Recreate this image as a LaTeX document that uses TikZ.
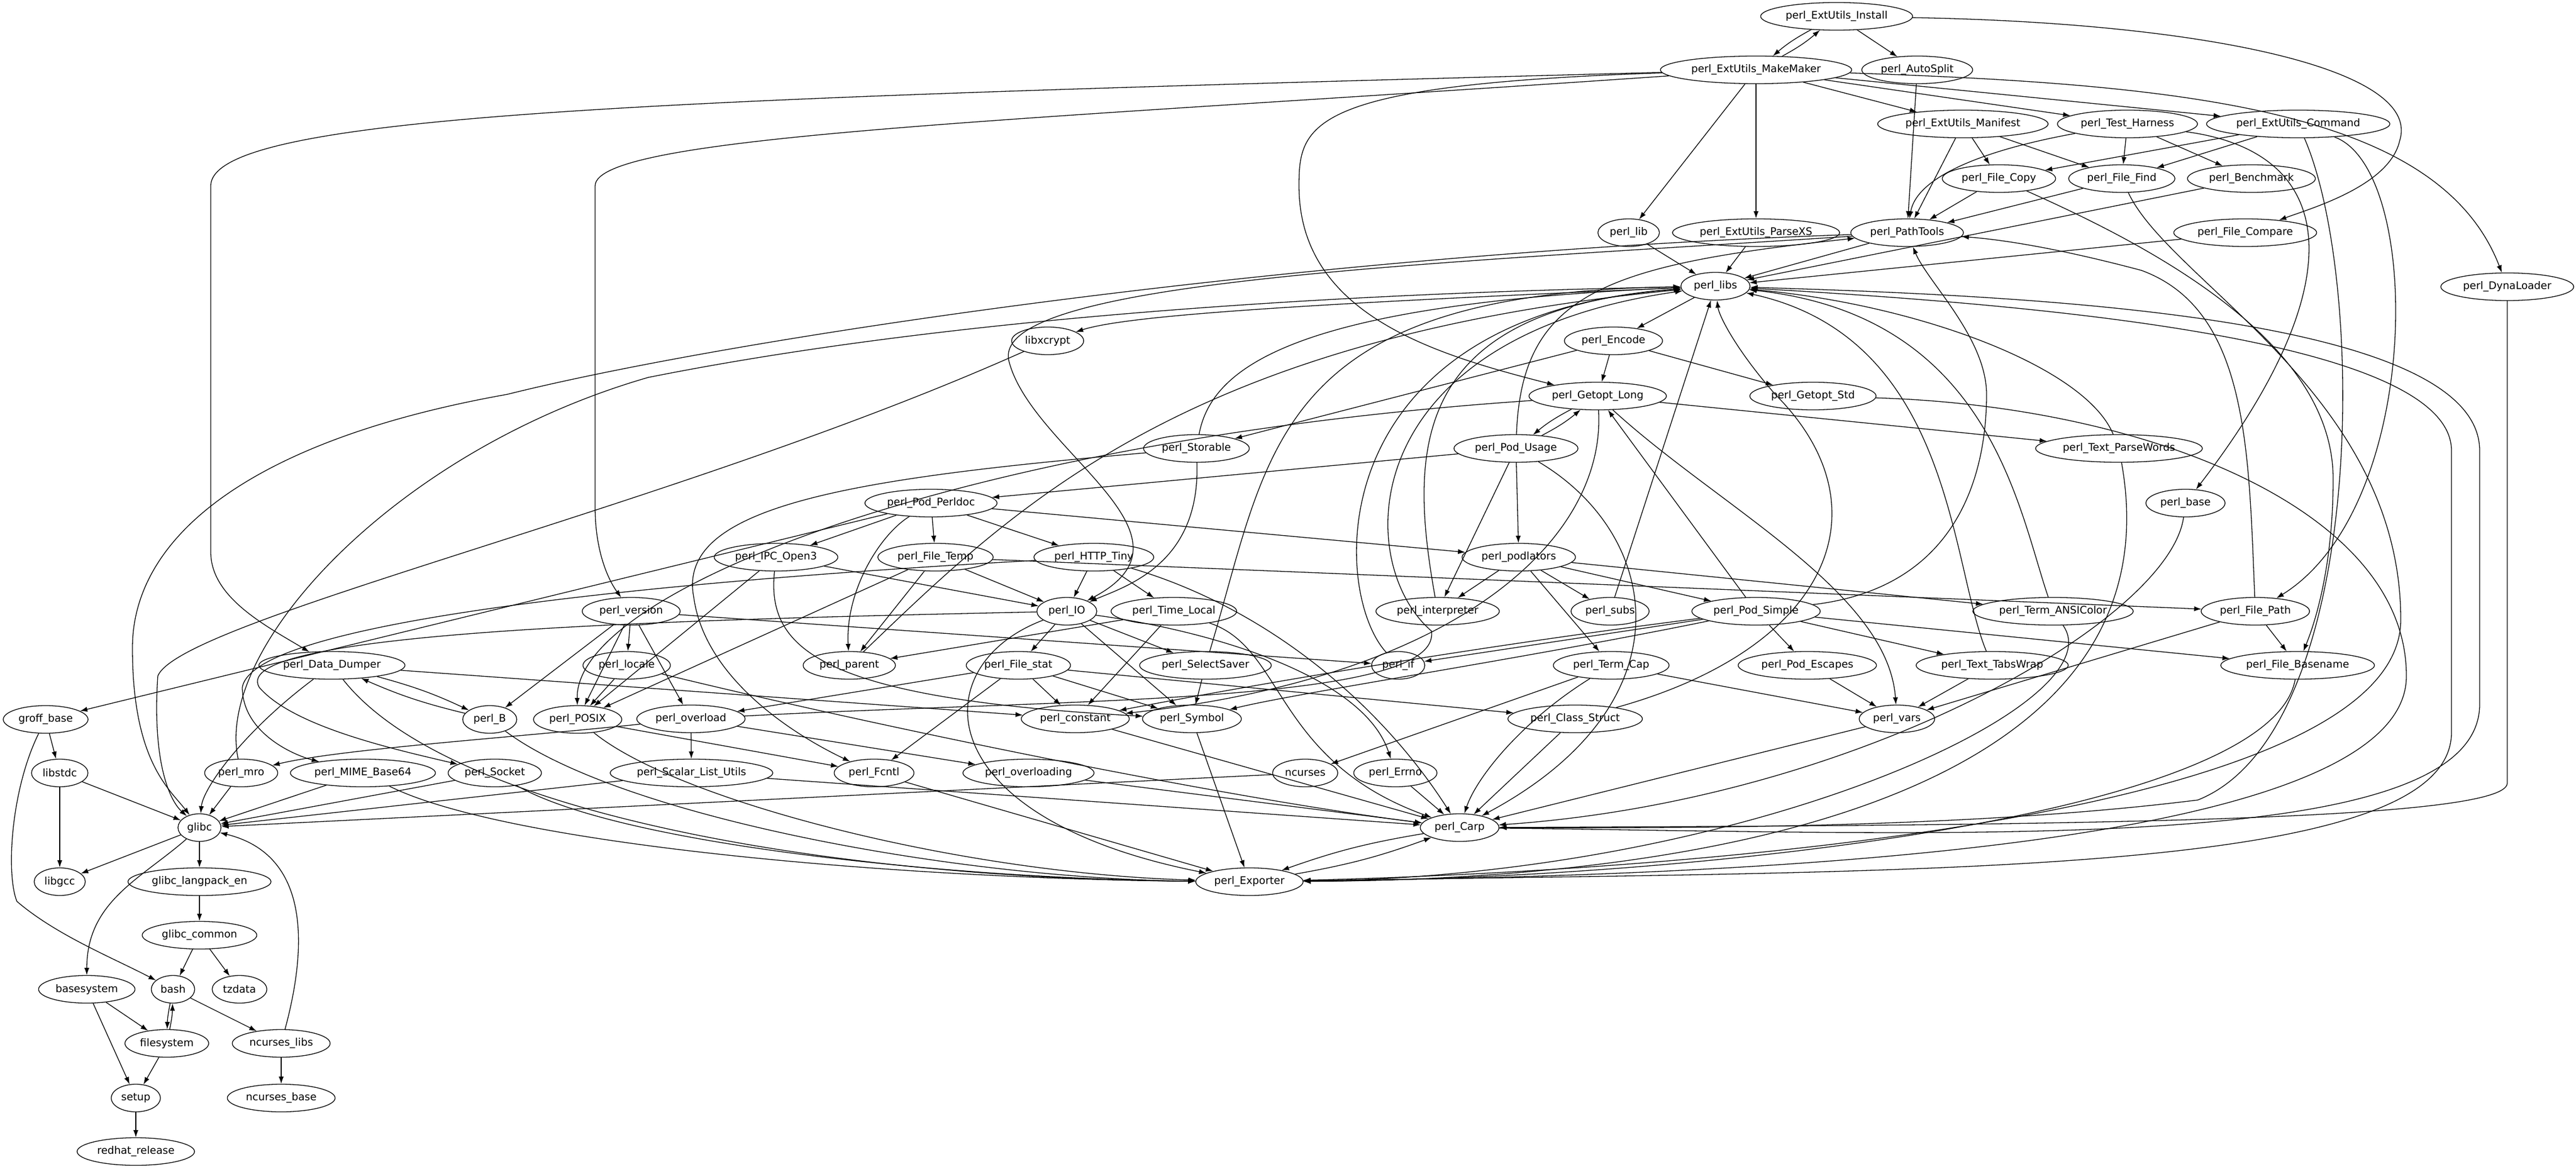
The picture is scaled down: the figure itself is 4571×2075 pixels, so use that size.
\documentclass[tikz,border=0pt]{standalone}
\usepackage{fontspec}
\setmainfont{DejaVu Sans}
\usetikzlibrary{arrows.meta,shapes.geometric}
\newcommand{\pkgfont}{\fontsize{9.25}{11}\selectfont}
\tikzset{
  pkg/.style={draw,ellipse,line width=0.65pt,minimum width=36.75pt,minimum height=24.5pt,inner xsep=2.5pt,inner ysep=1pt,font=\pkgfont},
  dep/.style={-{Latex[length=6.5pt,width=4.5pt]},line width=0.65pt}
}
\begin{document}
\begin{tikzpicture}[x=0.5pt,y=-0.5pt]
\useasboundingbox (0,0) rectangle (4571,2075);
\node[pkg] (install) at (3259,29) {perl\_ExtUtils\_Install};
\node[pkg] (makemaker) at (3116,124) {perl\_ExtUtils\_MakeMaker};
\node[pkg] (autosplit) at (3402,124) {perl\_AutoSplit};
\node[pkg] (manifest) at (3483,220) {perl\_ExtUtils\_Manifest};
\node[pkg] (harness) at (3775,220) {perl\_Test\_Harness};
\node[pkg] (command) at (4078,220) {perl\_ExtUtils\_Command};
\node[pkg] (filecopy) at (3547,317) {perl\_File\_Copy};
\node[pkg] (filefind) at (3765,317) {perl\_File\_Find};
\node[pkg] (benchmark) at (3995,317) {perl\_Benchmark};
\node[pkg] (lib) at (2890,413) {perl\_lib};
\node[pkg] (parsexs) at (3116,413) {perl\_ExtUtils\_ParseXS};
\node[pkg] (pathtools) at (3384,413) {perl\_PathTools};
\node[pkg] (filecompare) at (3984,413) {perl\_File\_Compare};
\node[pkg] (libs) at (3044,508) {perl\_libs};
\node[pkg] (dynaloader) at (4449,509) {perl\_DynaLoader};
\node[pkg] (libxcrypt) at (1859,605) {libxcrypt};
\node[pkg] (encode) at (2863,605) {perl\_Encode};
\node[pkg] (getoptlong) at (2835,703) {perl\_Getopt\_Long};
\node[pkg] (getoptstd) at (3217,703) {perl\_Getopt\_Std};
\node[pkg] (storable) at (2123,796) {perl\_Storable};
\node[pkg] (podusage) at (2690,796) {perl\_Pod\_Usage};
\node[pkg] (parsewords) at (3760,796) {perl\_Text\_ParseWords};
\node[pkg] (perldoc) at (1652,893) {perl\_Pod\_Perldoc};
\node[pkg] (base) at (3878,893) {perl\_base};
\node[pkg] (ipcopen3) at (1377,989) {perl\_IPC\_Open3};
\node[pkg] (filetemp) at (1660,989) {perl\_File\_Temp};
\node[pkg] (httptiny) at (1941,989) {perl\_HTTP\_Tiny};
\node[pkg] (podlators) at (2695,989) {perl\_podlators};
\node[pkg] (version) at (1120,1085) {perl\_version};
\node[pkg] (io) at (1893,1085) {perl\_IO};
\node[pkg] (timelocal) at (2083,1085) {perl\_Time\_Local};
\node[pkg] (interpreter) at (2551,1085) {perl\_interpreter};
\node[pkg] (subs) at (2857,1085) {perl\_subs};
\node[pkg] (podsimple) at (3116,1085) {perl\_Pod\_Simple};
\node[pkg] (ansicolor) at (3643,1085) {perl\_Term\_ANSIColor};
\node[pkg] (filepath) at (4002,1085) {perl\_File\_Path};
\node[pkg] (datadumper) at (589,1181) {perl\_Data\_Dumper};
\node[pkg] (locale) at (1112,1181) {perl\_locale};
\node[pkg] (parent) at (1507,1181) {perl\_parent};
\node[pkg] (filestat) at (1807,1181) {perl\_File\_stat};
\node[pkg] (selectsaver) at (2139,1181) {perl\_SelectSaver};
\node[pkg] (pif) at (2481,1181) {perl\_if};
\node[pkg] (termcap) at (2859,1181) {perl\_Term\_Cap};
\node[pkg] (podescapes) at (3207,1181) {perl\_Pod\_Escapes};
\node[pkg] (tabswrap) at (3535,1181) {perl\_Text\_TabsWrap};
\node[pkg] (filebasename) at (4077,1181) {perl\_File\_Basename};
\node[pkg] (groff) at (81,1277) {groff\_base};
\node[pkg] (pb) at (869,1277) {perl\_B};
\node[pkg] (posix) at (1025,1277) {perl\_POSIX};
\node[pkg] (overload) at (1226,1276) {perl\_overload};
\node[pkg] (constant) at (1908,1276) {perl\_constant};
\node[pkg] (symbol) at (2115,1276) {perl\_Symbol};
\node[pkg] (classstruct) at (2795,1276) {perl\_Class\_Struct};
\node[pkg] (vars) at (3366,1276) {perl\_vars};
\node[pkg] (libstdc) at (106,1372) {libstdc};
\node[pkg] (mro) at (428,1372) {perl\_mro};
\node[pkg] (mime) at (644,1372) {perl\_MIME\_Base64};
\node[pkg] (socket) at (878,1372) {perl\_Socket};
\node[pkg] (scalarutil) at (1227,1372) {perl\_Scalar\_List\_Utils};
\node[pkg] (fcntl) at (1551,1372) {perl\_Fcntl};
\node[pkg] (overloading) at (1825,1372) {perl\_overloading};
\node[pkg] (ncurses) at (2316,1372) {ncurses};
\node[pkg] (errno) at (2476,1372) {perl\_Errno};
\node[pkg] (glibc) at (354,1469) {glibc};
\node[pkg] (carp) at (2590,1469) {perl\_Carp};
\node[pkg] (libgcc) at (106,1565) {libgcc};
\node[pkg] (langpack) at (354,1565) {glibc\_langpack\_en};
\node[pkg] (exporter) at (2217,1565) {perl\_Exporter};
\node[pkg] (glibccommon) at (354,1660) {glibc\_common};
\node[pkg] (basesystem) at (154,1756) {basesystem};
\node[pkg] (bash) at (307,1756) {bash};
\node[pkg] (tzdata) at (425,1756) {tzdata};
\node[pkg] (filesystem) at (296,1852) {filesystem};
\node[pkg] (ncurseslibs) at (499,1852) {ncurses\_libs};
\node[pkg] (setup) at (241,1949) {setup};
\node[pkg] (ncursesbase) at (499,1949) {ncurses\_base};
\node[pkg] (redhat) at (241,2044) {redhat\_release};

\draw[dep] (install) to[bend right=6] (makemaker);
\draw[dep] (makemaker) to[bend right=6] (install);
\draw[dep] (install) -- (autosplit);
\draw[dep] (install) .. controls (3900,40) and (4300,120) .. (4258,250) .. controls (4240,330) and (4100,370) .. (filecompare);
\draw[dep] (makemaker) -- (lib);
\draw[dep] (makemaker) -- (parsexs);
\draw[dep] (makemaker) -- (manifest);
\draw[dep] (makemaker) -- (harness);
\draw[dep] (makemaker) -- (command);
\draw[dep] (makemaker) .. controls (3900,150) and (4330,200) .. (dynaloader);
\draw[dep] (makemaker) .. controls (2320,150) and (2305,220) .. (2305,330) .. controls (2305,560) and (2550,630) .. (getoptlong);
\draw[dep] (makemaker) .. controls (1200,175) and (374,200) .. (374,330) -- (374,980) .. controls (374,1060) and (470,1110) .. (datadumper);
\draw[dep] (makemaker) .. controls (1800,215) and (1056,240) .. (1056,330) -- (1056,900) .. controls (1056,980) and (1080,1030) .. (version);
\draw[dep] (autosplit) -- (pathtools);
\draw[dep] (manifest) -- (pathtools);
\draw[dep] (manifest) -- (filecopy);
\draw[dep] (manifest) -- (filefind);
\draw[dep] (harness) .. controls (3500,270) and (3400,320) .. (pathtools);
\draw[dep] (harness) -- (filefind);
\draw[dep] (harness) -- (benchmark);
\draw[dep] (harness) .. controls (4150,270) and (4180,500) .. (base);
\draw[dep] (command) -- (filecopy);
\draw[dep] (command) -- (filefind);
\draw[dep] (command) .. controls (4300,300) and (4300,900) .. (filepath);
\draw[dep] (command) .. controls (4200,500) and (4200,1300) .. (3900,1420) .. controls (3500,1470) and (3000,1470) .. (carp);
\draw[dep] (filecopy) -- (pathtools);
\draw[dep] (filecopy) .. controls (3800,430) and (4140,600) .. (4140,850) .. controls (4140,1000) and (4110,1100) .. (filebasename);
\draw[dep] (filefind) -- (pathtools);
\draw[dep] (filefind) .. controls (3850,500) and (4260,700) .. (4260,1100) .. controls (4260,1450) and (3000,1545) .. (exporter);
\draw[dep] (benchmark) -- (libs);
\draw[dep] (filecompare) -- (libs);
\draw[dep] (lib) -- (libs);
\draw[dep] (parsexs) -- (libs);
\draw[dep] (pathtools) -- (libs);
\draw[dep] (pathtools) .. controls (2300,450) and (1300,600) .. (900,700) .. controls (450,780) and (235,950) .. (235,1150) .. controls (235,1350) and (300,1400) .. (glibc);
\draw[dep] (pathtools) .. controls (2500,470) and (1760,500) .. (1790,640) .. controls (1830,800) and (2150,950) .. (io);
\draw[dep] (filepath) .. controls (3990,800) and (3990,550) .. (3800,480) .. controls (3650,440) and (3550,425) .. (pathtools);
\draw[dep] (filepath) -- (filebasename);
\draw[dep] (filepath) -- (vars);
\draw[dep] (filebasename) .. controls (4030,1450) and (3000,1560) .. (exporter);
\draw[dep] (dynaloader) -- (4449,1390) .. controls (4449,1460) and (3600,1465) .. (carp);
\draw[dep] (exporter) .. controls (3400,1545) and (4350,1560) .. (4350,1300) -- (4350,800) .. controls (4350,600) and (3600,540) .. (libs);
\draw[dep] (carp) .. controls (3500,1480) and (4400,1520) .. (4400,1250) -- (4400,800) .. controls (4400,560) and (3600,525) .. (libs);
\draw[dep] (base) .. controls (3850,1100) and (3300,1420) .. (carp);
\draw[dep] (parsewords) .. controls (3700,650) and (3400,540) .. (libs);
\draw[dep] (parsewords) .. controls (3860,1350) and (3200,1560) .. (exporter);
\draw[dep] (ansicolor) .. controls (3580,900) and (3530,560) .. (libs);
\draw[dep] (ansicolor) .. controls (3760,1250) and (3100,1555) .. (exporter);
\draw[dep] (getoptstd) .. controls (3800,720) and (4270,900) .. (4270,1200) .. controls (4270,1520) and (3000,1555) .. (exporter);
\draw[dep] (tabswrap) -- (vars);
\draw[dep] (tabswrap) .. controls (3460,1000) and (3465,600) .. (libs);
\draw[dep] (libs) -- (encode);
\draw[dep] (libs) .. controls (2300,540) and (2000,560) .. (libxcrypt);
\draw[dep] (libxcrypt) .. controls (1200,900) and (320,1100) .. (280,1200) .. controls (270,1350) and (300,1420) .. (glibc);
\draw[dep] (encode) -- (getoptlong);
\draw[dep] (encode) -- (getoptstd);
\draw[dep] (encode) -- (storable);
\draw[dep] (getoptlong) to[bend right=6] (podusage);
\draw[dep] (podusage) to[bend right=6] (getoptlong);
\draw[dep] (getoptlong) -- (parsewords);
\draw[dep] (getoptlong) .. controls (3050,900) and (3350,1050) .. (vars);
\draw[dep] (getoptlong) .. controls (2850,950) and (2600,1200) .. (constant);
\draw[dep] (getoptlong) .. controls (1700,780) and (1020,1050) .. (posix);
\draw[dep] (podusage) -- (perldoc);
\draw[dep] (podusage) -- (podlators);
\draw[dep] (podusage) -- (interpreter);
\draw[dep] (podusage) .. controls (2950,950) and (3000,1250) .. (carp);
\draw[dep] (podusage) .. controls (2700,520) and (2850,470) .. (pathtools);
\draw[dep] (storable) .. controls (2150,650) and (2300,540) .. (libs);
\draw[dep] (storable) .. controls (1500,850) and (1200,900) .. (1231,1060) .. controls (1250,1200) and (1400,1300) .. (fcntl);
\draw[dep] (storable) .. controls (2130,1000) and (2000,1040) .. (io);
\draw[dep] (perldoc) -- (ipcopen3);
\draw[dep] (perldoc) -- (filetemp);
\draw[dep] (perldoc) -- (httptiny);
\draw[dep] (perldoc) .. controls (1560,950) and (1500,1050) .. (parent);
\draw[dep] (perldoc) -- (podlators);
\draw[dep] (perldoc) -- (groff);
\draw[dep] (ipcopen3) -- (io);
\draw[dep] (ipcopen3) .. controls (1360,1150) and (1450,1240) .. (symbol);
\draw[dep] (ipcopen3) -- (posix);
\draw[dep] (filetemp) -- (parent);
\draw[dep] (filetemp) -- (io);
\draw[dep] (filetemp) -- (filepath);
\draw[dep] (filetemp) -- (posix);
\draw[dep] (httptiny) -- (io);
\draw[dep] (httptiny) -- (timelocal);
\draw[dep] (httptiny) .. controls (2250,1080) and (2450,1250) .. (carp);
\draw[dep] (httptiny) .. controls (1200,1030) and (450,1100) .. (430,1220) .. controls (430,1300) and (520,1340) .. (mime);
\draw[dep] (podlators) -- (interpreter);
\draw[dep] (podlators) -- (subs);
\draw[dep] (podlators) -- (podsimple);
\draw[dep] (podlators) -- (termcap);
\draw[dep] (podlators) -- (ansicolor);
\draw[dep] (interpreter) .. controls (2500,800) and (2500,550) .. (libs);
\draw[dep] (subs) -- (libs);
\draw[dep] (podsimple) -- (getoptlong);
\draw[dep] (podsimple) -- (pif);
\draw[dep] (podsimple) -- (podescapes);
\draw[dep] (podsimple) -- (tabswrap);
\draw[dep] (podsimple) -- (filebasename);
\draw[dep] (podsimple) .. controls (3500,1040) and (3525,800) .. (3525,700) .. controls (3525,600) and (3420,500) .. (pathtools);
\draw[dep] (podsimple) .. controls (2600,1150) and (2200,1220) .. (constant);
\draw[dep] (podsimple) .. controls (2700,1170) and (2300,1230) .. (symbol);
\draw[dep] (pif) .. controls (2360,1050) and (2340,560) .. (libs);
\draw[dep] (termcap) -- (ncurses);
\draw[dep] (termcap) -- (vars);
\draw[dep] (termcap) .. controls (2700,1280) and (2620,1380) .. (carp);
\draw[dep] (podescapes) -- (vars);
\draw[dep] (classstruct) -- (carp);
\draw[dep] (classstruct) .. controls (3250,1150) and (3350,900) .. (3150,700) .. controls (3080,620) and (3050,560) .. (libs);
\draw[dep] (vars) -- (carp);
\draw[dep] (errno) -- (carp);
\draw[dep] (ncurses) -- (glibc);
\draw[dep] (version) -- (locale);
\draw[dep] (version) -- (pb);
\draw[dep] (version) -- (posix);
\draw[dep] (version) -- (overload);
\draw[dep] (version) -- (pif);
\draw[dep] (locale) -- (posix);
\draw[dep] (locale) .. controls (1600,1300) and (2200,1420) .. (carp);
\draw[dep] (datadumper) to[bend left=5] (pb);
\draw[dep] (pb) to[bend left=5] (datadumper);
\draw[dep] (datadumper) -- (constant);
\draw[dep] (datadumper) .. controls (430,1300) and (360,1400) .. (glibc);
\draw[dep] (datadumper) .. controls (800,1450) and (1500,1560) .. (exporter);
\draw[dep] (pb) .. controls (1100,1450) and (1700,1560) .. (exporter);
\draw[dep] (posix) -- (fcntl);
\draw[dep] (posix) .. controls (1200,1420) and (1700,1550) .. (exporter);
\draw[dep] (overload) -- (scalarutil);
\draw[dep] (overload) -- (overloading);
\draw[dep] (overload) .. controls (900,1310) and (600,1330) .. (mro);
\draw[dep] (overload) .. controls (1900,1240) and (2560,1250) .. (2540,1120) .. controls (2400,1000) and (2400,600) .. (libs);
\draw[dep] (mro) -- (glibc);
\draw[dep] (mro) .. controls (380,1150) and (700,800) .. (1150,670) .. controls (1700,560) and (2400,520) .. (libs);
\draw[dep] (mime) -- (glibc);
\draw[dep] (socket) -- (glibc);
\draw[dep] (scalarutil) -- (glibc);
\draw[dep] (mime) .. controls (900,1500) and (1600,1560) .. (exporter);
\draw[dep] (socket) .. controls (1100,1500) and (1700,1560) .. (exporter);
\draw[dep] (scalarutil) -- (carp);
\draw[dep] (fcntl) -- (exporter);
\draw[dep] (overloading) -- (carp);
\draw[dep] (constant) -- (carp);
\draw[dep] (symbol) -- (exporter);
\draw[dep] (io) -- (filestat);
\draw[dep] (io) -- (selectsaver);
\draw[dep] (io) -- (symbol);
\draw[dep] (io) .. controls (2150,1120) and (2420,1200) .. (errno);
\draw[dep] (io) .. controls (1640,1180) and (1640,1450) .. (exporter);
\draw[dep] (io) .. controls (1200,1100) and (400,1120) .. (460,1220) .. controls (520,1290) and (700,1330) .. (socket);
\draw[dep] (timelocal) -- (parent);
\draw[dep] (timelocal) -- (constant);
\draw[dep] (timelocal) .. controls (2280,1150) and (2260,1350) .. (carp);
\draw[dep] (parent) .. controls (1800,900) and (2100,600) .. (libs);
\draw[dep] (filestat) -- (overload);
\draw[dep] (filestat) -- (constant);
\draw[dep] (filestat) -- (symbol);
\draw[dep] (filestat) -- (fcntl);
\draw[dep] (filestat) -- (classstruct);
\draw[dep] (selectsaver) .. controls (2254,800) and (2254,520) .. (libs);
\draw[dep] (selectsaver) -- (symbol);
\draw[dep] (groff) -- (libstdc);
\draw[dep] (groff) .. controls (20,1400) and (10,1550) .. (30,1600) .. controls (100,1660) and (200,1700) .. (bash);
\draw[dep] (libstdc) -- (glibc);
\draw[dep] (libstdc) -- (libgcc);
\draw[dep] (glibc) -- (libgcc);
\draw[dep] (glibc) -- (langpack);
\draw[dep] (glibc) .. controls (250,1560) and (154,1600) .. (basesystem);
\draw[dep] (langpack) -- (glibccommon);
\draw[dep] (glibccommon) -- (bash);
\draw[dep] (glibccommon) -- (tzdata);
\draw[dep] (basesystem) -- (filesystem);
\draw[dep] (basesystem) -- (setup);
\draw[dep] (bash) to[bend right=5] (filesystem);
\draw[dep] (filesystem) to[bend right=5] (bash);
\draw[dep] (bash) -- (ncurseslibs);
\draw[dep] (filesystem) -- (setup);
\draw[dep] (ncurseslibs) .. controls (540,1700) and (560,1520) .. (glibc);
\draw[dep] (ncurseslibs) -- (ncursesbase);
\draw[dep] (setup) -- (redhat);
\draw[dep] (exporter) to[bend right=5] (carp);
\draw[dep] (carp) to[bend right=5] (exporter);
\end{tikzpicture}
\end{document}
